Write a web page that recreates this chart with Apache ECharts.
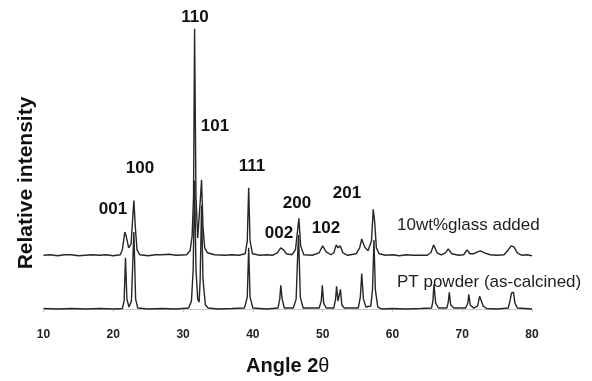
<!DOCTYPE html>
<html>
<head>
<meta charset="utf-8">
<script src="https://cdn.jsdelivr.net/npm/echarts@6/dist/echarts.min.js"></script>
<style>
  html, body { margin: 0; padding: 0; background: #fff; }
  #chart { width: 592px; height: 381px; }
</style>
</head>
<body>
<div id="chart"></div>
<script>
// x ticks (2-theta, degrees)
const xTicks = [10, 20, 30, 40, 50, 60, 70, 80];

// PT powder (as-calcined) - [2theta, intensity]
const ptPowder = [
  [10, 0.5], [12, 0], [14, 0.5], [16, 0], [18, 0.5], [20, 0], [21.3, 0.5],
  [21.55, 8], [21.75, 52], [21.95, 10], [22.25, 2], [22.6, 8], [22.95, 78], [23.2, 10], [23.5, 1],
  [25, 0], [27, 0.5], [29, 0], [30.8, 1], [31.2, 8], [31.45, 40], [31.65, 130], [31.85, 40],
  [32.1, 10], [32.3, 7], [32.45, 30], [32.65, 105], [32.85, 30], [33.2, 4], [33.6, 1],
  [35, 0], [37, 0.5], [38.8, 1], [39.2, 12], [39.4, 62], [39.6, 12], [40.0, 1], [42, 0],
  [43.6, 1], [43.85, 10], [44.0, 24], [44.2, 10], [44.5, 1], [45.8, 1], [46.2, 10], [46.45, 60],
  [46.55, 75], [46.8, 12], [47.2, 1], [49.5, 1], [49.8, 8], [49.95, 24], [50.15, 6], [50.5, 1],
  [51.6, 1], [51.85, 10], [52.0, 23], [52.2, 8], [52.4, 8], [52.55, 20], [52.75, 4], [53.1, 1],
  [55.1, 1], [55.4, 12], [55.6, 36], [55.85, 10], [56.2, 2], [56.9, 3], [57.15, 20], [57.35, 70],
  [57.55, 20], [57.9, 2], [58.5, 0], [60, 0.5], [62, 0], [64, 0.5], [65.6, 1], [65.8, 8],
  [65.95, 25], [66.2, 6], [66.6, 1], [67.8, 1], [68.0, 7], [68.15, 17], [68.35, 4], [68.8, 1],
  [70.5, 1], [70.8, 6], [70.95, 15], [71.15, 4], [71.6, 1], [72.2, 3], [72.5, 13], [72.7, 11],
  [73.0, 3], [73.5, 0.5], [75, 0], [76.6, 1], [76.9, 10], [77.05, 16], [77.2, 14], [77.35, 17],
  [77.55, 6], [77.9, 1], [79, 0.5], [80, 0]
];

// 10wt% glass added - intensity above its own baseline
const glassAdded = [
  [10, 0.5], [11, 1], [12, 0], [13, 1], [14, 1], [15, 0], [16, 0.5], [17, 1], [18, 0.5], [19, 1],
  [20, 0], [21.0, 1], [21.3, 6], [21.65, 24],
  [21.85, 20], [22.2, 8], [22.55, 12], [22.8, 40], [22.95, 56], [23.15, 30], [23.4, 6], [23.8, 1],
  [25, 0], [26, 1], [27, 1], [28, 1.5], [29, 0.5], [30.5, 1], [31.0, 5], [31.3, 20], [31.5, 60],
  [31.65, 230], [31.85, 60], [32.1, 18], [32.3, 20], [32.5, 60], [32.65, 77], [32.85, 30],
  [33.1, 8], [33.5, 3], [34.5, 1], [36, 0.5], [37, 1], [38, 0.5], [38.9, 2], [39.2, 15], [39.4, 69],
  [39.6, 15], [39.95, 2], [41, 0.5], [42, 1], [42.8, 0.5], [43.5, 3], [44.0, 8], [44.4, 6], [44.8, 2],
  [45.6, 1], [46.1, 6], [46.4, 25], [46.6, 38], [46.85, 10], [47.3, 1], [48.5, 0.5], [49.5, 3],
  [50.0, 10], [50.5, 4], [51.2, 1], [51.6, 3], [51.95, 11], [52.2, 8], [52.5, 10], [52.9, 3],
  [53.6, 0.5], [54.8, 2], [55.3, 8], [55.6, 17], [56.0, 9], [56.5, 5], [57.0, 15], [57.25, 47],
  [57.45, 35], [57.7, 8], [58.1, 2], [59, 0.5], [60, 1], [61, 0], [62, 1], [63, 0.5], [65, 0.5], [65.5, 3],
  [65.9, 11], [66.4, 3], [67.0, 1], [67.6, 3], [68.0, 7], [68.5, 2], [69.5, 0.5], [70.2, 1],
  [70.7, 6], [71.1, 2], [71.6, 2], [72.2, 4], [72.6, 5], [73.2, 3], [74, 1], [75, 0.5],
  [76.0, 1], [76.5, 5], [77.0, 10], [77.4, 9], [77.9, 3], [78.5, 0.5], [79.3, 1], [80, 0]
];

// reflection labels
const hklNames = ['001', '100', '110', '101', '111', '002', '200', '102', '201'];
const hklPos = [[113, 209], [140, 168], [195, 17], [215, 126], [252, 166], [279, 233], [297, 203], [326, 228], [347, 193]];

const traceNames = ['10wt%glass added', 'PT powder (as-calcined)'];
const traceLabelPos = [[397, 225], [397, 282]];

const offset = 54; // vertical shift of upper pattern

const chart = echarts.init(document.getElementById('chart'));

const upper = glassAdded.map(p => [p[0], p[1] + offset]);

const graphics = hklNames.map((t, i) => ({
  type: 'text', x: hklPos[i][0], y: hklPos[i][1],
  style: { text: t, fontFamily: 'Liberation Sans, Arial', fontWeight: 'bold', fontSize: 17,
           fill: '#111', align: 'center', verticalAlign: 'middle' }
}));
traceNames.forEach((t, i) => graphics.push({
  type: 'text', x: traceLabelPos[i][0], y: traceLabelPos[i][1],
  style: { text: t, fontFamily: 'Liberation Sans, Arial', fontSize: 17,
           fill: '#222', align: 'left', verticalAlign: 'middle' }
}));
graphics.push({
  type: 'text', x: 26, y: 183, rotation: Math.PI / 2,
  style: { text: 'Relative intensity', fontFamily: 'Liberation Sans, Arial', fontWeight: 'bold',
           fontSize: 21, fill: '#111', align: 'center', verticalAlign: 'middle' }
});

chart.setOption({
  animation: false,
  backgroundColor: '#fff',
  grid: { left: 43.5, right: 60, top: 20, bottom: 67 },
  xAxis: {
    type: 'value', min: xTicks[0], max: xTicks[xTicks.length - 1], interval: 10,
    name: 'Angle 2{t|θ}', nameLocation: 'middle', nameGap: 46,
    nameTextStyle: {
      fontFamily: 'Liberation Sans, Arial', fontWeight: 'bold', fontSize: 20, color: '#111',
      rich: { t: { fontFamily: 'Liberation Sans, Arial', fontWeight: 'normal', fontSize: 20, color: '#111' } }
    },
    axisLine: { lineStyle: { color: '#c8c8c8', width: 1 } },
    axisTick: { show: true, length: 3, lineStyle: { color: '#c8c8c8' } },
    axisLabel: { fontFamily: 'Liberation Sans, Arial', fontWeight: 'bold', fontSize: 12, color: '#222', margin: 19 },
    splitLine: { show: false }
  },
  yAxis: {
    type: 'value', min: -1, max: 293, show: false
  },
  graphic: graphics,
  series: [
    {
      name: traceNames[0], type: 'line', data: upper, showSymbol: false,
      lineStyle: { color: '#262626', width: 1.4 }
    },
    {
      name: traceNames[1], type: 'line', data: ptPowder, showSymbol: false,
      lineStyle: { color: '#262626', width: 1.4 }
    }
  ]
});
</script>
</body>
</html>
